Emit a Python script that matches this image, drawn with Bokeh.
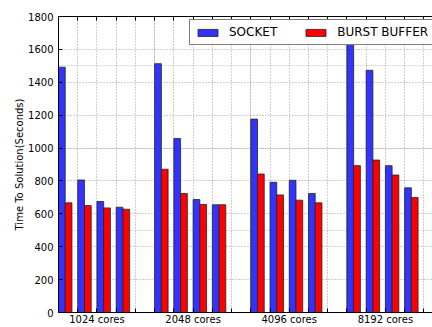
from bokeh.plotting import figure
from bokeh.models import (FixedTicker, LinearAxis, Range1d, Legend, LegendItem,
                          ColumnDataSource, Grid)
from bokeh.embed import file_html
from bokeh.resources import INLINE

# Core counts; each group holds four runs
groups = ["1024 cores", "2048 cores", "4096 cores", "8192 cores"]
runs_per_group = 4

# Time to solution in seconds, four runs per core count
socket = [1492, 806, 675, 640,
          1513, 1058, 687, 655,
          1176, 792, 804, 723,
          1690, 1473, 893, 758]
burst_buffer = [667, 650, 636, 628,
                871, 723, 657, 655,
                842, 715, 683, 667,
                893, 927, 836, 699]

y_ticks = [0, 200, 400, 600, 800, 1000, 1200, 1400, 1600, 1800]

bar_w = 0.35
slot = runs_per_group + 1  # one empty slot between groups

slots = []
for g in range(len(groups)):
    for r in range(runs_per_group):
        slots.append(g * slot + r)

src = ColumnDataSource(dict(
    xs=[s + bar_w / 2 for s in slots],
    xb=[s + 1.5 * bar_w for s in slots],
    socket=socket,
    burst=burst_buffer,
))

FONT = "DejaVu Sans"

p = figure(width=432, height=327, output_backend="svg", toolbar_location=None,
           x_range=Range1d(0, 19.45), y_range=Range1d(0, 1800),
           min_border_left=58, min_border_right=0, min_border_top=16,
           min_border_bottom=12, x_axis_location=None, y_axis_location=None)
p.outline_line_color = None
p.background_fill_color = "white"
p.border_fill_color = "white"

n_slots = len(groups) * slot
all_ticks = list(range(n_slots))
label_ticks = {g * slot + 2: name for g, name in enumerate(groups)}
overrides = {t: label_ticks.get(t, "") for t in all_ticks}

# dotted grid at every slot and every y tick
for dim, ticks in ((0, all_ticks), (1, y_ticks)):
    p.add_layout(Grid(dimension=dim, ticker=FixedTicker(ticks=ticks),
                      grid_line_color="#9a9a9a", grid_line_width=1,
                      grid_line_dash="1 2"))

# bottom axis with group names
xa = LinearAxis(ticker=FixedTicker(ticks=all_ticks), major_label_overrides=overrides)
xa.major_tick_in = 4
xa.major_tick_out = 0
xa.minor_tick_line_color = None
xa.axis_line_color = "black"
xa.major_label_text_font = FONT
xa.major_label_text_font_size = "10px"
xa.major_label_text_color = "black"
xa.major_label_standoff = 1
p.add_layout(xa, "below")

# top spine with ticks only
xt = LinearAxis(ticker=FixedTicker(ticks=all_ticks),
                major_label_overrides={t: "" for t in all_ticks})
xt.major_tick_in = 4
xt.major_tick_out = 0
xt.minor_tick_line_color = None
xt.major_label_text_font_size = "0px"
xt.major_label_standoff = 0
p.add_layout(xt, "above")

ya = LinearAxis(ticker=FixedTicker(ticks=y_ticks), axis_label="Time To Solution(Seconds)")
ya.major_tick_in = 4
ya.major_tick_out = 0
ya.minor_tick_line_color = None
ya.major_label_text_font = FONT
ya.major_label_text_font_size = "10px"
ya.major_label_text_color = "black"
ya.major_label_standoff = 5
ya.axis_label_text_font = FONT
ya.axis_label_text_font_size = "10px"
ya.axis_label_text_font_style = "normal"
ya.axis_label_text_color = "black"
ya.axis_label_standoff = 0
p.add_layout(ya, "left")

r_sock = p.vbar(x="xs", top="socket", width=bar_w, source=src,
                fill_color="#3333ff", line_color="#222222", line_width=0.8)
r_burst = p.vbar(x="xb", top="burst", width=bar_w, source=src,
                 fill_color="#ff0000", line_color="#222222", line_width=0.8)

legend = Legend(items=[LegendItem(label="SOCKET", renderers=[r_sock]),
                       LegendItem(label="BURST BUFFER", renderers=[r_burst])],
                orientation="horizontal", location=(131, 267))
legend.label_text_font = FONT
legend.label_text_font_size = "12px"
legend.label_text_color = "black"
legend.glyph_width = 25
legend.glyph_height = 9
legend.label_height = 10
legend.label_standoff = 9
legend.spacing = 26
legend.padding = 5
legend.margin = 0
legend.border_line_color = "black"
legend.border_line_width = 1
legend.background_fill_color = "white"
legend.background_fill_alpha = 1.0
p.add_layout(legend, "center")

open("out.html", "w").write(file_html(p, INLINE))
